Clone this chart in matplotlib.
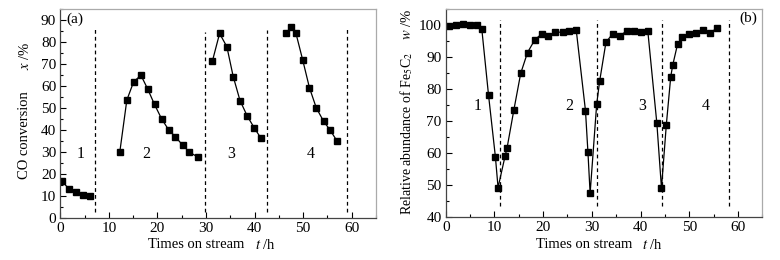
import matplotlib
matplotlib.use("Agg")
import matplotlib.pyplot as plt
from matplotlib.ticker import MultipleLocator

plt.rcParams['font.family'] = ['Liberation Serif', 'DejaVu Serif']
plt.rcParams['mathtext.fontset'] = 'stix'
plt.rcParams['font.size'] = 10.5

# (a) CO conversion, four runs
t_a = [[0.3, 1.8, 3.3, 4.7, 6.1],
       [12.25, 13.7, 15.1, 16.6, 18.0, 19.4, 20.85, 22.3, 23.7, 25.2, 26.6, 28.4],
       [31.3, 32.8, 34.3, 35.6, 37.0, 38.5, 39.9, 41.3],
       [46.5, 47.6, 48.5, 49.9, 51.3, 52.7, 54.2, 55.6, 57.0]]
x_a = [[16.8, 13.2, 11.7, 10.6, 10.0],
       [30.0, 53.6, 61.9, 64.9, 58.6, 51.6, 45.1, 40.1, 36.9, 33.1, 29.9, 27.6],
       [71.2, 83.9, 77.8, 64.3, 53.4, 46.3, 41.1, 36.3],
       [84.2, 86.9, 84.1, 71.9, 59.2, 50.1, 44.0, 39.8, 34.9]]
cuts_a = [7.2, 29.8, 42.6, 59.0]
lab_a = [4.1, 17.6, 35.2, 51.5]

# (b) relative abundance of Fe5C2
t_b = [0.68, 2.1, 3.56, 5.0, 6.43, 7.4, 8.8, 10.2, 10.75, 12.2, 12.6, 14.0, 15.4,
       16.8, 18.3, 19.7, 21.1, 22.5, 24.0, 25.4, 26.8, 28.7, 29.2, 29.65, 31.0,
       31.6, 32.9, 34.3, 35.75, 37.2, 38.6, 40.1, 41.5, 43.35, 44.3, 45.3, 46.2,
       46.6, 47.6, 48.55, 49.85, 51.4, 52.9, 54.3, 55.7]
w_b = [99.7, 100.0, 100.2, 100.0, 100.0, 98.9, 78.0, 58.85, 49.2, 59.1, 61.6,
       73.5, 84.9, 91.4, 95.4, 97.2, 96.5, 97.7, 97.8, 98.0, 98.4, 73.2, 60.3,
       47.4, 75.3, 82.4, 94.6, 97.3, 96.6, 98.2, 98.1, 97.8, 98.0, 69.3, 49.0,
       68.9, 83.8, 87.4, 94.0, 96.2, 97.2, 97.4, 98.5, 97.5, 99.1]
cuts_b = [11.1, 31.15, 44.4, 58.2]
lab_b = [6.5, 25.4, 40.4, 53.4]

fig = plt.figure(figsize=(7.8, 2.6), dpi=100)
W, H = 780.0, 260.0
ax1 = fig.add_axes([60.3 / W, 1 - 218 / H, (376 - 60.3) / W, (218 - 9) / H])
ax2 = fig.add_axes([445.7 / W, 1 - 217 / H, (762.3 - 445.7) / W, (217 - 9) / H])

for t, x in zip(t_a, x_a):
    ax1.plot(t, x, '-s', color='black', lw=0.9, ms=4.2)
for c, top in zip(cuts_a, [86.3, 84.7, 85.4, 86.3]):
    ax1.plot([c, c], [2.9, top], '--', color='black', lw=0.9, dashes=(3, 2.5))
for i, xp in enumerate(lab_a):
    ax1.text(xp, 29.3, str(i + 1), ha='center', va='center', fontsize=11.5)
ax1.text(2.9, 90.5, '(a)', ha='center', va='center', fontsize=11)
ax1.set_xlim(0, 65)
ax1.set_ylim(0, 95)
ax1.yaxis.set_major_locator(MultipleLocator(10))
ax1.yaxis.set_minor_locator(MultipleLocator(5))

ax2.plot(t_b, w_b, '-s', color='black', lw=0.9, ms=4.2)
for c in cuts_b:
    ax2.plot([c, c], [43.5, 101.5], '--', color='black', lw=0.9, dashes=(3, 2.5))
for i, xp in enumerate(lab_b):
    ax2.text(xp, 74.8, str(i + 1), ha='center', va='center', fontsize=11.5)
ax2.text(62.1, 102.0, '(b)', ha='center', va='center', fontsize=11)
ax2.set_xlim(0, 65)
ax2.set_ylim(40, 105)
ax2.yaxis.set_major_locator(MultipleLocator(10))
ax2.yaxis.set_minor_locator(MultipleLocator(5))

for ax in (ax1, ax2):
    ax.xaxis.set_major_locator(MultipleLocator(10))
    ax.xaxis.set_minor_locator(MultipleLocator(5))
    ax.tick_params(which='both', direction='in', top=False, right=False,
                   labelsize=11, pad=3)
    ax.tick_params(which='major', length=4, width=0.8)
    ax.tick_params(which='minor', length=2.5, width=0.8)
    ax.spines['left'].set_color('#444444')
    ax.spines['bottom'].set_color('#444444')
    ax.spines['top'].set_color('#aaaaaa')
    ax.spines['right'].set_color('#aaaaaa')
    for s in ax.spines.values():
        s.set_linewidth(0.9)

# axis titles, placed as in the reference (wide gap before the symbol)
def ftext(px, py, s, rot=0, size=10.5):
    fig.text(px / W, 1 - py / H, s, ha='center', va='center', rotation=rot,
             fontsize=size)

ftext(25, 135, 'CO conversion', 90)
ftext(25, 56, '$x$ /%', 90)
ftext(407, 133, 'Relative abundance of Fe$_5$C$_2$', 90, 10)
ftext(407, 24, '$w$ /%', 90)
ftext(196, 245, 'Times on stream')
ftext(265, 245, '$t$ /h')
ftext(584, 245, 'Times on stream')
ftext(652, 245, '$t$ /h')

fig.savefig('out.png', dpi=100)
